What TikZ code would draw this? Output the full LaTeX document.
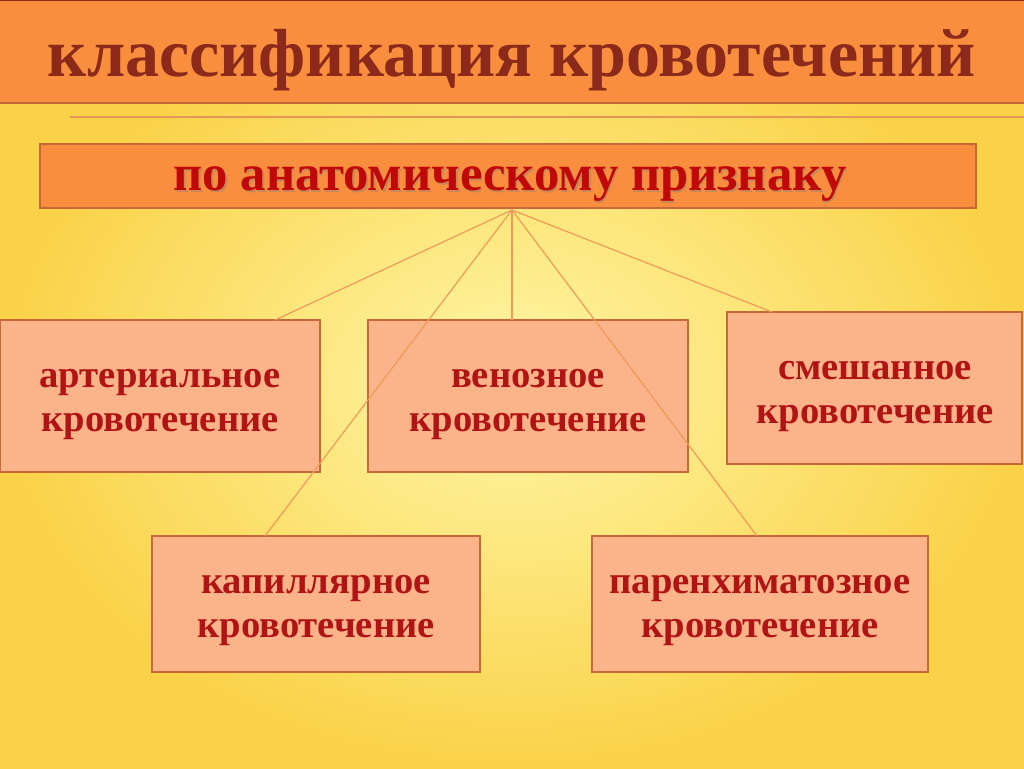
\documentclass[tikz,border=0pt]{standalone}
\usepackage{fontspec}
\setmainfont{Liberation Serif}
\begin{document}
\begin{tikzpicture}[x=0.75pt,y=-0.75pt,
  cbox/.style={draw=boxedge,line width=1.5pt,fill=boxfill},
  ctext/.style={font=\bfseries\fontsize{29}{33}\selectfont,text=txtred,align=center},
  link/.style={draw=linkc,line width=0.9pt}]
\definecolor{bgin}{HTML}{FFF7A8}
\definecolor{bgout}{HTML}{FAD248}
\definecolor{banner}{HTML}{F98E3E}
\definecolor{boxfill}{HTML}{FBB48A}
\definecolor{boxedge}{HTML}{C4693A}
\definecolor{txtred}{HTML}{B01414}
\definecolor{subred}{HTML}{C00808}
\definecolor{titlec}{HTML}{8B2A1A}
\definecolor{linkc}{HTML}{EE9A5A}
\useasboundingbox (0,0) rectangle (1024,768);
\shade[inner color=bgin,outer color=bgout] (0,0) rectangle (1024,768);
\fill[banner] (0,0) rectangle (1024,103);
\draw[boxedge,line width=1.5pt] (0,103) -- (1024,103);
\draw[titlec,line width=0.6pt] (0,0.5) -- (1024,0.5);
\node[font=\bfseries\fontsize{51}{60}\selectfont,text=titlec] (title) at (512,60) {классификация кровотечений};
\draw[line width=1.2pt,draw=linkc!80!brown] (70,117) -- (1024,117);
\node[draw=boxedge,line width=1.5pt,fill=banner,minimum width=702pt,minimum height=48pt] (sub) at (508,176) {};
\node[font=\bfseries\fontsize{38}{44}\selectfont,text=black!50,opacity=0.4] at (511.5,186) {по анатомическому признаку};
\node[font=\bfseries\fontsize{38}{44}\selectfont,text=subred] (subt) at (510,184) {по анатомическому признаку};
\coordinate (hub) at (512,210);
\draw[cbox] (0,320) rectangle (320,472);
\draw[cbox] (368,320) rectangle (688,472);
\draw[cbox] (727,312) rectangle (1022,464);
\draw[cbox] (152,536) rectangle (480,672);
\draw[cbox] (592,536) rectangle (928,672);
\node[ctext] (a) at (160,404) {артериальное\\кровотечение};
\node[ctext] (v) at (528,404) {венозное\\кровотечение};
\node[ctext] (m) at (875,396) {смешанное\\кровотечение};
\node[ctext] (c) at (316,610) {капиллярное\\кровотечение};
\node[ctext] (p) at (760,610) {паренхиматозное\\кровотечение};
\coordinate (ea) at (275,320);
\coordinate (ev) at (512,320);
\coordinate (em) at (772,312);
\coordinate (ec) at (265,536);
\coordinate (ep) at (757,536);
\draw[link] (hub) -- (ea);
\draw[link] (hub) -- (ev);
\draw[link] (hub) -- (em);
\draw[link] (hub) -- (ec);
\draw[link] (hub) -- (ep);
\end{tikzpicture}
\end{document}
